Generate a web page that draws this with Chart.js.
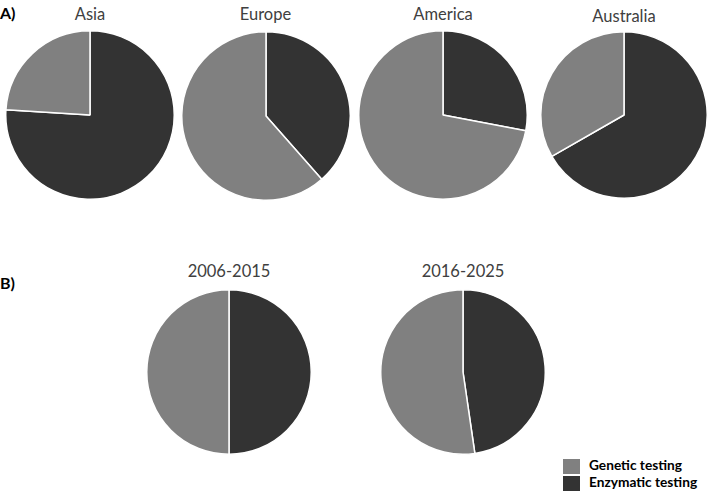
<!DOCTYPE html>
<html><head><meta charset="utf-8">
<script src="https://cdn.jsdelivr.net/npm/chart.js@4"></script>
<style>
html,body{margin:0;padding:0;background:#fff;width:709px;height:500px;overflow:hidden;font-family:Lato,"Open Sans",sans-serif;}
.t{position:absolute;font-size:16.5px;color:#404040;transform:translateX(-50%);white-space:nowrap;line-height:1;}
.p{position:absolute;font-size:16px;font-weight:bold;color:#000;line-height:1;}
.c{position:absolute;}
.lg{position:absolute;left:563px;font-size:13.7px;font-weight:bold;color:#000;line-height:16px;}
.sw{display:inline-block;width:17px;height:15px;vertical-align:middle;margin-right:9px;}
</style></head><body>
<div class="p" style="left:0;top:5px">A)</div>
<div class="p" style="left:0;top:275px">B)</div>
<div id="root"></div>
<div class="lg" style="top:457px"><span class="sw" style="background:#808080"></span>Genetic testing</div>
<div class="lg" style="top:474px"><span class="sw" style="background:#333333"></span>Enzymatic testing</div>
<script>
const categories = ["Enzymatic testing", "Genetic testing"];
const titles = ["Asia", "Europe", "America", "Australia", "2006-2015", "2016-2025"];
const enzymatic = [76, 38.5, 28, 66.7, 50, 47.7];
const genetic = [24, 61.5, 72, 33.3, 50, 52.3];
const colors = ["#333333", "#808080"];
const layout = [
  {cx:90, cy:115, r:84, ty:6},
  {cx:265.5, cy:115.5, r:84, ty:6},
  {cx:443, cy:115, r:84, ty:6},
  {cx:624, cy:115, r:83, ty:8},
  {cx:229, cy:372, r:82, ty:263},
  {cx:463, cy:372, r:82, ty:263}
];
const root = document.getElementById('root');
titles.forEach((name, i) => {
  const L = layout[i];
  const t = document.createElement('div');
  t.className = 't'; t.textContent = name;
  t.style.left = L.cx + 'px'; t.style.top = L.ty + 'px';
  root.appendChild(t);
  const size = Math.round(L.r * 2 + 2);
  const wrap = document.createElement('div');
  wrap.className = 'c';
  wrap.style.left = (L.cx - size / 2) + 'px';
  wrap.style.top = (L.cy - size / 2) + 'px';
  wrap.style.width = size + 'px'; wrap.style.height = size + 'px';
  const cv = document.createElement('canvas');
  wrap.appendChild(cv); root.appendChild(wrap);
  new Chart(cv, {
    type: 'pie',
    data: {
      labels: categories,
      datasets: [{ data: [enzymatic[i], genetic[i]], backgroundColor: colors, borderColor: '#ffffff', borderWidth: 1.5 }]
    },
    options: {
      responsive: true, maintainAspectRatio: false, animation: false,
      layout: { padding: 0 },
      plugins: { legend: { display: false }, tooltip: { enabled: false }, title: { display: false } }
    }
  });
});
</script>
</body></html>
